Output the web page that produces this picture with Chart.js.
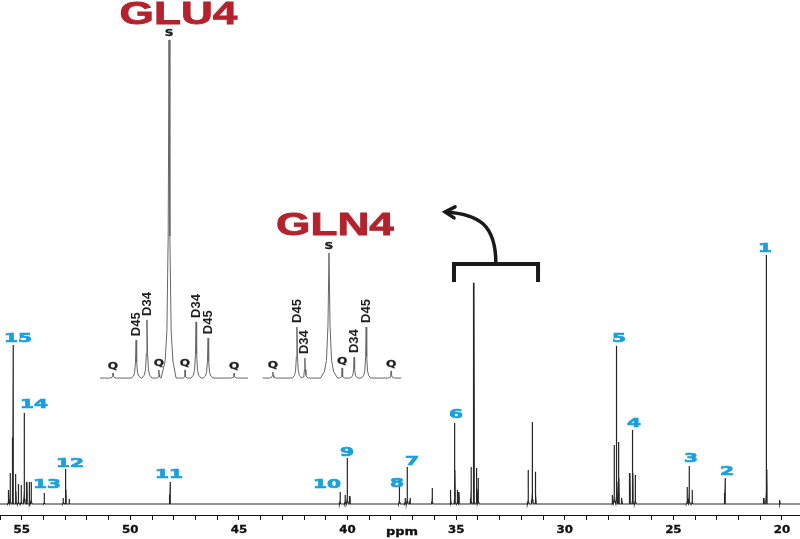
<!DOCTYPE html>
<html>
<head>
<meta charset="utf-8">
<script src="https://cdn.jsdelivr.net/npm/chart.js@4.4.1/dist/chart.umd.min.js"></script>
<style>
  html, body { margin: 0; padding: 0; background: #fff; }
  #wrap { width: 800px; height: 539px; }
</style>
</head>
<body>
<div id="wrap"><canvas id="nmr" width="800" height="539"></canvas></div>
<script>
// 13C spectrum: peak positions (ppm) and heights (tallest = 100)
const peakPpm = [55.61, 55.53, 55.40, 55.27, 55.15, 55.02, 54.88, 54.76, 54.64, 54.56,
  53.96, 53.09, 52.97, 52.81, 48.17, 40.34, 40.11, 40.01, 39.89, 37.61, 37.35, 37.25, 37.12,
  36.10, 35.25, 35.06, 34.94, 34.87, 34.31, 34.18, 34.05, 33.98, 31.68, 31.49, 31.34,
  27.80, 27.72, 27.61, 27.51, 27.37, 27.00, 26.87, 26.75, 24.36, 24.27, 24.13, 22.62,
  20.83, 20.71, 20.10];
const peakHeight = [5.6, 12.4, 63.9, 12.0, 8.0, 7.6, 36.5, 8.8, 8.8, 8.8,
  4.4, 2.4, 14.1, 2.0, 8.8, 4.8, 3.6, 18.5, 3.2, 10.4, 2.4, 14.9, 2.4,
  6.4, 5.6, 32.5, 5.6, 4.8, 14.9, 88.8, 14.5, 10.4, 13.7, 32.9, 12.9,
  3.6, 23.7, 63.5, 24.9, 2.4, 12.4, 29.7, 11.6, 6.8, 15.3, 5.6, 10.4,
  2.4, 100, 1.6];

// numbered assignments (anchor = bottom centre of the number)
const peakLabels = ['15', '14', '13', '12', '11', '10', '9', '8', '7', '6', '5', '4', '3', '2', '1'];
const labelPpm = [55.17, 54.43, 53.84, 52.78, 48.22, 40.94, 40.02, 37.72, 37.03, 35.01, 27.50, 26.81, 24.19, 22.53, 20.78];
const labelHeight = [65.1, 38.6, 6.4, 14.9, 10.4, 6.4, 19.3, 6.8, 15.7, 34.5, 65.1, 30.9, 16.9, 11.6, 101.2];

// ppm axis
const ppmMin = 19.17, ppmMax = 56.0;
const ppmLabelStep = 5;

// expanded C4 multiplets: offset from the singlet (Hz), height (GLU4 S = 100), half width (Hz)
const gluNames = ['Q', 'D45', 'D34', 'Q', 'S', 'Q', 'D34', 'D45', 'Q'];
const gluHz = [-39.6, -23.3, -15.6, -7.1, 0, 11.3, 19.1, 27.6, 46.0];
const gluHeight = [1.5, 11.2, 17.2, 2.4, 100, 2.4, 16.6, 11.8, 1.5];
const gluWidth = [2.5, 3.5, 3.5, 1.5, 5, 1.5, 3.5, 3.5, 2.5];
const gluSpan = [-48.8, 55.9];

const glnNames = ['Q', 'D45', 'D34', 'S', 'Q', 'D34', 'D45', 'Q'];
const glnHz = [-39.6, -22.6, -17.0, 0, 9.2, 17.7, 26.2, 43.8];
const glnHeight = [1.8, 15.1, 5.9, 37.0, 3.0, 6.2, 15.1, 2.1];
const glnWidth = [2.5, 3.2, 2.4, 6, 2, 3, 3.2, 2.5];
const glnSpan = [-46.7, 50.9];

// line shape used for every peak: [offset in half widths, fraction of height]
const shape = [[-1, 0], [-0.55, 0.05], [-0.3, 0.14], [-0.12, 0.42], [0, 1],
  [0.12, 0.42], [0.3, 0.14], [0.55, 0.05], [1, 0]];

function buildTrace(centres, heights, widths, lo, hi) {
  const pts = [{ x: lo, y: 0 }];
  centres.forEach((c, i) => {
    shape.forEach(([d, f]) => pts.push({ x: c + d * widths[i], y: heights[i] * f }));
  });
  pts.push({ x: hi, y: 0 });
  return pts.sort((a, b) => a.x - b.x);
}

const mainTrace = buildTrace(peakPpm, peakHeight, peakPpm.map(() => 0.04), ppmMin, ppmMax);
const gluTrace = buildTrace(gluHz, gluHeight, gluWidth, gluSpan[0], gluSpan[1]);
const glnTrace = buildTrace(glnHz, glnHeight, glnWidth, glnSpan[0], glnSpan[1]);

function drawText(ctx, text, px, py, font, color, sx, rot, align, outline) {
  ctx.save();
  ctx.translate(px, py);
  if (rot) ctx.rotate(rot);
  ctx.scale(sx || 1, 1);
  ctx.font = font;
  ctx.fillStyle = color;
  ctx.textAlign = align || 'center';
  ctx.textBaseline = rot ? 'middle' : 'alphabetic';
  ctx.fillText(text, 0, 0);
  if (outline) {
    ctx.strokeStyle = color;
    ctx.lineWidth = outline;
    ctx.strokeText(text, 0, 0);
  }
  ctx.restore();
}

const annotate = {
  id: 'annotate',
  afterDatasetsDraw(chart) {
    const { ctx, scales } = chart;
    const x = scales.x, y = scales.y, yi = scales.yIns;

    // numbered peaks
    peakLabels.forEach((t, i) => {
      drawText(ctx, t, x.getPixelForValue(labelPpm[i]), y.getPixelForValue(labelHeight[i]),
        'bold 13px "DejaVu Sans"', '#1ba0dc', 1.55, 0, 'center', 0.7);
    });

    // ppm tick labels
    x.ticks.forEach(tk => {
      if (tk.value % ppmLabelStep === 0) {
        drawText(ctx, String(tk.value), x.getPixelForValue(tk.value), x.bottom + 13,
          'bold 10px "DejaVu Sans"', '#111', 1.18, 0, 'center', 0.3);
      }
    });
    drawText(ctx, 'ppm', x.getPixelForValue(37.49), chart.height - 4,
      'bold 10px "DejaVu Sans"', '#111', 1.3, 0, 'center', 0.3);

    // multiplet letters and titles
    const insets = [
      { axis: scales.xGlu, names: gluNames, hz: gluHz, h: gluHeight, title: 'GLU4', tHz: 6.7, tH: 104.6 },
      { axis: scales.xGln, names: glnNames, hz: glnHz, h: glnHeight, title: 'GLN4', tHz: 4.2, tH: 42.3 }
    ];
    insets.forEach(ins => {
      ins.names.forEach((n, i) => {
        const px = ins.axis.getPixelForValue(ins.hz[i]);
        const top = yi.getPixelForValue(ins.h[i]);
        if (n.length > 1) {
          drawText(ctx, n, px, top - 4, 'bold 13px "Liberation Sans"', '#1e1e1e', 1, -Math.PI / 2, 'left');
        } else {
          drawText(ctx, n, px, top - 4, 'bold 9px "DejaVu Sans"', '#1e1e1e', 1.35, 0, 'center', 0.3);
        }
      });
      drawText(ctx, ins.title, ins.axis.getPixelForValue(ins.tHz), yi.getPixelForValue(ins.tH),
        'bold 32px "Liberation Sans"', '#b3222d', 1.38, 0, 'center', 0.8);
    });

    // bracket over 35-31 ppm with curved arrow pointing to the expansions
    const bl = x.getPixelForValue(35.1), br = x.getPixelForValue(31.23);
    const bt = y.getPixelForValue(96.4), bb = y.getPixelForValue(89.2);
    const sx = x.getPixelForValue(33.17);
    const tx = x.getPixelForValue(35.51), ty = y.getPixelForValue(117.3);
    ctx.save();
    ctx.strokeStyle = '#1a1a1a';
    ctx.lineWidth = 4;
    ctx.lineJoin = 'miter';
    ctx.beginPath();
    ctx.moveTo(bl, bb);
    ctx.lineTo(bl, bt);
    ctx.lineTo(br, bt);
    ctx.lineTo(br, bb);
    ctx.stroke();
    ctx.lineWidth = 3.5;
    ctx.beginPath();
    ctx.moveTo(sx, bt);
    ctx.bezierCurveTo(sx, bt - 0.75 * (bt - ty), sx - 0.33 * (sx - tx), ty + 2, tx, ty);
    ctx.stroke();
    ctx.lineCap = 'round';
    ctx.beginPath();
    ctx.moveTo(tx + 10, ty - 5);
    ctx.lineTo(tx, ty);
    ctx.lineTo(tx + 9, ty + 6);
    ctx.stroke();
    ctx.restore();
  }
};

new Chart(document.getElementById('nmr'), {
  type: 'line',
  data: {
    datasets: [
      { data: mainTrace, xAxisID: 'x', yAxisID: 'y', borderColor: '#262626', borderWidth: 1.2 },
      { data: gluTrace, xAxisID: 'xGlu', yAxisID: 'yIns', borderColor: '#666', borderWidth: 1 },
      { data: glnTrace, xAxisID: 'xGln', yAxisID: 'yIns', borderColor: '#666', borderWidth: 1 }
    ]
  },
  options: {
    responsive: false,
    animation: false,
    parsing: false,
    normalized: true,
    elements: { point: { radius: 0 }, line: { tension: 0 } },
    layout: { padding: { top: 0, left: 0, right: 0, bottom: 19 } },
    plugins: { legend: { display: false }, tooltip: { enabled: false } },
    scales: {
      x: {
        type: 'linear', reverse: true, min: ppmMin, max: ppmMax,
        border: { display: true, color: '#111', width: 1 },
        grid: { display: true, drawOnChartArea: false, drawTicks: true, tickLength: 5, color: '#111' },
        ticks: { display: false, stepSize: 1, includeBounds: false, autoSkip: false }
      },
      y: { type: 'linear', display: false, min: -4.42, max: 202.4 },
      xGlu: { type: 'linear', display: false, min: -119.5, max: 446.1 },
      xGln: { type: 'linear', display: false, min: -231.9, max: 332.0 },
      yIns: { type: 'linear', display: false, min: -40.5, max: 111.8 }
    }
  },
  plugins: [annotate]
});
</script>
</body>
</html>
